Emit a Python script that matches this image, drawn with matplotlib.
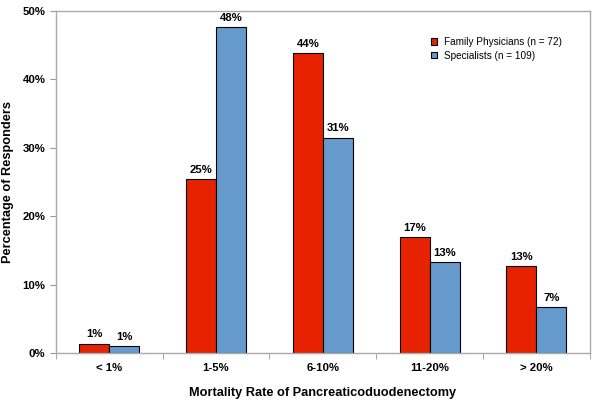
import numpy as np
import matplotlib
matplotlib.use('Agg')
import matplotlib.pyplot as plt
from matplotlib.ticker import PercentFormatter

plt.rcParams['font.family'] = ['Liberation Sans', 'DejaVu Sans']

# Data
categories = ['< 1%', '1-5%', '6-10%', '11-20%', '> 20%']
family = [1.4, 25.4, 43.8, 17.0, 12.7]
specialists = [1.0, 47.7, 31.5, 13.3, 6.7]
family_labels = ['1%', '25%', '44%', '17%', '13%']
spec_labels = ['1%', '48%', '31%', '13%', '7%']

fig = plt.figure(figsize=(6.0, 4.04), dpi=100)
ax = fig.add_axes([0.093, 0.126, 0.89, 0.847])

x = np.arange(len(categories))
w = 0.28
b1 = ax.bar(x - w / 2, family, w, color='#E62200', edgecolor='black', linewidth=0.8,
            label='Family Physicians (n = 72)')
b2 = ax.bar(x + w / 2, specialists, w, color='#6699CC', edgecolor='black', linewidth=0.8,
            label='Specialists (n = 109)')

# value labels above bars
for bars, labels in [(b1, family_labels), (b2, spec_labels)]:
    for bar, lab in zip(bars, labels):
        ax.text(bar.get_x() + bar.get_width() / 2, bar.get_height() + 0.6, lab,
                ha='center', va='bottom', fontsize=8.2, fontweight='bold')

ax.set_xlim(-0.5, len(categories) - 0.5)
ax.set_ylim(0, 50)
ax.set_yticks(np.arange(0, 51, 10))
ax.yaxis.set_major_formatter(PercentFormatter(decimals=0))
ax.set_xticks(x)
ax.set_xticklabels(categories)
ax.set_xticks(np.arange(-0.5, len(categories), 1), minor=True)
ax.tick_params(axis='x', which='major', length=0, pad=7)
ax.tick_params(axis='x', which='minor', length=4, color='#999999')
ax.tick_params(axis='y', length=4, color='#999999')
for lbl in ax.get_xticklabels() + ax.get_yticklabels():
    lbl.set_fontsize(8.2)
    lbl.set_fontweight('bold')

for s in ax.spines.values():
    s.set_color('#AAAAAA')
    s.set_linewidth(1.0)

ax.set_xlabel('Mortality Rate of Pancreaticoduodenectomy', fontsize=9.2, fontweight='bold', labelpad=10)
ax.set_ylabel('Percentage of Responders', fontsize=9.2, fontweight='bold', labelpad=6)

ax.legend(loc='upper right', bbox_to_anchor=(0.965, 0.95), frameon=False, fontsize=7.2,
          handlelength=0.6, handleheight=0.6, handletextpad=0.7, labelspacing=0.35)

fig.savefig('out.png', dpi=100)
